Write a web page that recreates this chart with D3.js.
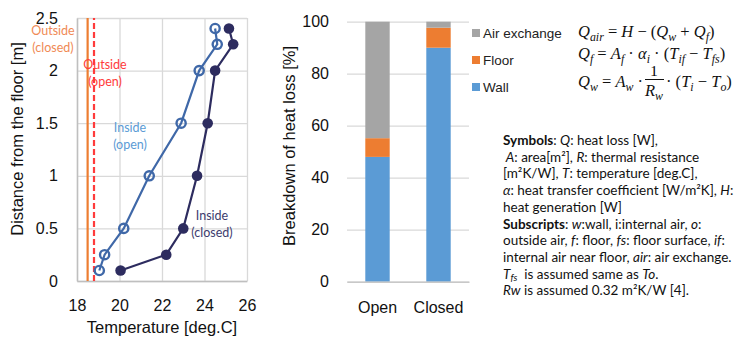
<!DOCTYPE html>
<html>
<head>
<meta charset="utf-8">
<script src="https://cdn.jsdelivr.net/npm/d3@7"></script>
<style>
 body{margin:0;background:#fff;}
 svg text{font-family:"Liberation Sans",Arial,sans-serif;}
 svg .note text, svg text.note{font-family:Lato,"Noto Sans",sans-serif;}
 svg .math text{font-family:"Liberation Serif","DejaVu Serif",serif;}
</style>
</head>
<body>
<svg id="chart" width="749" height="338"></svg>
<script>
// ---- data: temperature profile ----
var heights = [0.1, 0.25, 0.5, 1.0, 1.5, 2.0, 2.25, 2.4];
var insideOpen = [19.05, 19.3, 20.2, 21.4, 22.9, 23.75, 24.6, 24.5];
var insideClosed = [20.05, 22.2, 23.0, 23.65, 24.15, 24.5, 25.35, 25.15];
var outsideClosed = 18.5;
var outsideOpen = 18.8;
var tempTicks = [18, 20, 22, 24, 26];
var heightTicks = [0, 0.5, 1, 1.5, 2, 2.5];

// ---- data: heat loss breakdown ----
var cases = ["Open", "Closed"];
var wallLoss = [48, 90];
var floorLoss = [7.2, 7.7];
var airLoss = [44.8, 2.3];
var lossKeys = ["Wall", "Floor", "Air exchange"];
var lossTicks = [0, 20, 40, 60, 80, 100];

var svg = d3.select("#chart");

//------------------ left chart -------------------
var x1 = d3.scaleLinear().domain([18, 26]).range([77, 247]);
var y1 = d3.scaleLinear().domain([0, 2.5]).range([281, 18]);

var g1 = svg.append("g");
// grid
g1.append("g").attr("transform","translate(0,281)")
 .call(d3.axisBottom(x1).tickValues(tempTicks).tickSize(-263).tickFormat(""))
 .call(g=>{g.select(".domain").remove(); g.selectAll("line").attr("stroke","#d9d9d9").attr("stroke-width",1.3);});
g1.append("g").attr("transform","translate(77,0)")
 .call(d3.axisLeft(y1).tickValues(heightTicks).tickSize(-170).tickFormat(""))
 .call(g=>{g.select(".domain").remove(); g.selectAll("line").attr("stroke","#d9d9d9").attr("stroke-width",1.3);});
// axes
g1.append("g").attr("transform","translate(0,281)")
 .call(d3.axisBottom(x1).tickValues(tempTicks).tickSize(0).tickPadding(19))
 .call(g=>{g.select(".domain").attr("stroke","#bfbfbf").attr("stroke-width",1.5);
   g.selectAll("text").attr("font-size",16).attr("fill","#111");});
g1.append("g").attr("transform","translate(77,0)")
 .call(d3.axisLeft(y1).tickValues(heightTicks).tickSize(0).tickPadding(19).tickFormat(d3.format("")))
 .call(g=>{g.select(".domain").attr("stroke","#bfbfbf").attr("stroke-width",1.5);
   g.selectAll("text").attr("font-size",16).attr("fill","#111");});

g1.append("text").attr("x",162).attr("y",333).attr("text-anchor","middle")
 .attr("font-size",16.5).attr("fill","#111").text("Temperature [deg.C]");
g1.append("text").attr("transform","translate(23,139) rotate(-90)").attr("text-anchor","middle")
 .attr("font-size",16.5).attr("fill","#111").text("Distance from the floor [m]");

// outside lines
g1.append("line").attr("x1",x1(outsideClosed)).attr("x2",x1(outsideClosed))
 .attr("y1",y1(0)).attr("y2",y1(2.5)).attr("stroke","#ed7d31").attr("stroke-width",2.2);
g1.append("line").attr("x1",x1(outsideOpen)).attr("x2",x1(outsideOpen))
 .attr("y1",y1(0)).attr("y2",y1(2.5)).attr("stroke","#ff3b3b").attr("stroke-width",2.2)
 .attr("stroke-dasharray","6,3");

var line = d3.line().x(d=>x1(d[0])).y(d=>y1(d[1]));
var openPts = heights.map((h,i)=>[insideOpen[i], h]);
var closedPts = heights.map((h,i)=>[insideClosed[i], h]);

g1.append("path").attr("d",line(closedPts)).attr("fill","none")
 .attr("stroke","#2d2c5f").attr("stroke-width",2.2);
g1.selectAll(".cdot").data(closedPts).enter().append("circle")
 .attr("cx",d=>x1(d[0])).attr("cy",d=>y1(d[1])).attr("r",5.3).attr("fill","#2d2c5f");

g1.append("path").attr("d",line(openPts)).attr("fill","none")
 .attr("stroke","#3f68a8").attr("stroke-width",2.2);
g1.selectAll(".odot").data(openPts).enter().append("circle")
 .attr("cx",d=>x1(d[0])).attr("cy",d=>y1(d[1])).attr("r",4.6)
 .attr("fill","none").attr("stroke","#3f68a8").attr("stroke-width",2.4);

// series labels
function label2(x, y, a, b, col){
 var t = g1.append("text").attr("class","note").attr("font-size",12.5).attr("fill",col).attr("text-anchor","middle");
 t.append("tspan").attr("x",x).attr("y",y).text(a);
 t.append("tspan").attr("x",x).attr("y",y+17).text(b);
}
label2(53, 35, "Outside", "(closed)", "#f08a55");
label2(105, 69, "Outside", "(open)", "#ff3b3b");
label2(130, 132, "Inside", "(open)", "#5b9bd5");
label2(212, 220, "Inside", "(closed)", "#3d3c6e");

//------------------ right chart -------------------
var x2 = d3.scaleBand().domain(cases).range([347, 469]).paddingInner(0.6).paddingOuter(0.3);
var y2 = d3.scaleLinear().domain([0, 100]).range([281.7, 21.7]);
var color = d3.scaleOrdinal().domain(lossKeys).range(["#5b9bd5", "#ed7d31", "#a5a5a5"]);

var rows = cases.map((c,i)=>({cat:c, "Wall":wallLoss[i], "Floor":floorLoss[i], "Air exchange":airLoss[i]}));
var stack = d3.stack().keys(lossKeys)(rows);

var g2 = svg.append("g");
g2.append("g").attr("transform","translate(347,0)")
 .call(d3.axisLeft(y2).tickValues(lossTicks).tickSize(-122).tickPadding(18))
 .call(g=>{g.select(".domain").remove();
   g.selectAll("line").attr("stroke","#d9d9d9").attr("stroke-width",1.3);
   g.selectAll("text").attr("font-size",16).attr("fill","#111");});

g2.selectAll(".ser").data(stack).enter().append("g").attr("fill",d=>color(d.key))
 .selectAll("rect").data(d=>d).enter().append("rect")
 .attr("x",d=>x2(d.data.cat)).attr("width",x2.bandwidth())
 .attr("y",d=>y2(d[1])).attr("height",d=>y2(d[0])-y2(d[1]));

g2.append("g").attr("transform","translate(0,281.7)")
 .call(d3.axisBottom(x2).tickSize(0).tickPadding(20))
 .call(g=>{g.select(".domain").attr("stroke","#c8c8c8").attr("stroke-width",1.5);
   g.selectAll("text").attr("font-size",16).attr("fill","#111");});

g2.append("text").attr("transform","translate(295,146) rotate(-90)").attr("text-anchor","middle")
 .attr("font-size",16.5).attr("fill","#111").text("Breakdown of heat loss [%]");

// legend
var legendKeys = lossKeys.slice().reverse();
var lg = g2.selectAll(".lg").data(legendKeys).enter().append("g")
 .attr("transform",(d,i)=>"translate(472,"+(33+i*27)+")");
lg.append("rect").attr("x",0).attr("y",-4).attr("width",8).attr("height",8).attr("fill",d=>color(d));
lg.append("text").attr("x",11).attr("y",5).attr("font-size",13.5).attr("fill","#222").text(d=>d);

//------------------ equations -------------------
function richText(sel, x, y, segs, size, drop){
 var t = sel.append("text").attr("x",x).attr("y",y).attr("font-size",size).attr("fill","#111");
 var shift = 0;
 drop = drop || 0.24;
 segs.forEach(function(s){
  var sp = t.append("tspan").text(s[0]);
  var st = s[1];
  if(st.indexOf("i")>=0) sp.attr("font-style","italic");
  if(st.indexOf("b")>=0) sp.attr("font-weight","bold");
  if(st.indexOf("s")>=0){
   sp.attr("font-size",size*0.72);
   if(shift===0){ sp.attr("dy",size*drop); shift = size*drop; }
  } else if(shift!==0){ sp.attr("dy",-shift); shift = 0; }
 });
 return t;
}
var eq = svg.append("g").attr("class","math");
richText(eq, 578, 37, [["Q","i"],["air","is"],[" = ","n"],["H","i"],[" − (","n"],["Q","i"],["w","is"],[" + ","n"],["Q","i"],["f","is"],[")","n"]], 16.5);
richText(eq, 578, 59, [["Q","i"],["f","is"],[" = ","n"],["A","i"],["f","is"],[" · ","n"],["α","i"],["i","is"],[" · (","n"],["T","i"],["if","is"],[" − ","n"],["T","i"],["fs","is"],[")","n"]], 16.5);
richText(eq, 578, 87, [["Q","i"],["w","is"],[" = ","n"],["A","i"],["w","is"],[" ·","n"]], 16.5);
eq.append("text").attr("x",654).attr("y",76).attr("text-anchor","middle").attr("font-size",15).text("1");
eq.append("line").attr("x1",645).attr("x2",664).attr("y1",79.5).attr("y2",79.5).attr("stroke","#111").attr("stroke-width",1);
richText(eq, 645, 96, [["R","i"],["w","is"]], 16.5);
richText(eq, 666, 87, [["· (","n"],["T","i"],["i","is"],[" − ","n"],["T","i"],["o","is"],[")","n"]], 16.5);

//------------------ notes -------------------
var noteLines = [
 [["Symbols","b"],[": ",""],["Q","i"],[": heat loss [W],",""]],
 [[" A","i"],[": area[m²], ",""],["R","i"],[": thermal resistance",""]],
 [["[m²K/W], ",""],["T","i"],[": temperature [deg.C],",""]],
 [["α","i"],[": heat transfer coefficient [W/m²K], ",""],["H","i"],[":",""]],
 [["heat generation [W]",""]],
 [["Subscripts","b"],[": ",""],["w","i"],[":wall, i:internal air, ",""],["o","i"],[":",""]],
 [["outside air, ",""],["f","i"],[": floor, ",""],["fs","i"],[": floor surface, ",""],["if","i"],[":",""]],
 [["internal air near floor, ",""],["air","i"],[": air exchange.",""]],
 [["T","i"],["fs","is"],["  is assumed same as ",""],["To","i"],[".",""]],
 [["Rw","i"],[" is assumed 0.32 m²K/W [4].",""]]
];
var nt = svg.append("g").attr("class","note");
noteLines.forEach(function(l,i){
 richText(nt, 503, 145 + i*16.7, l, 13.5, 0.18).attr("xml:space","preserve");
});
</script>
</body>
</html>
